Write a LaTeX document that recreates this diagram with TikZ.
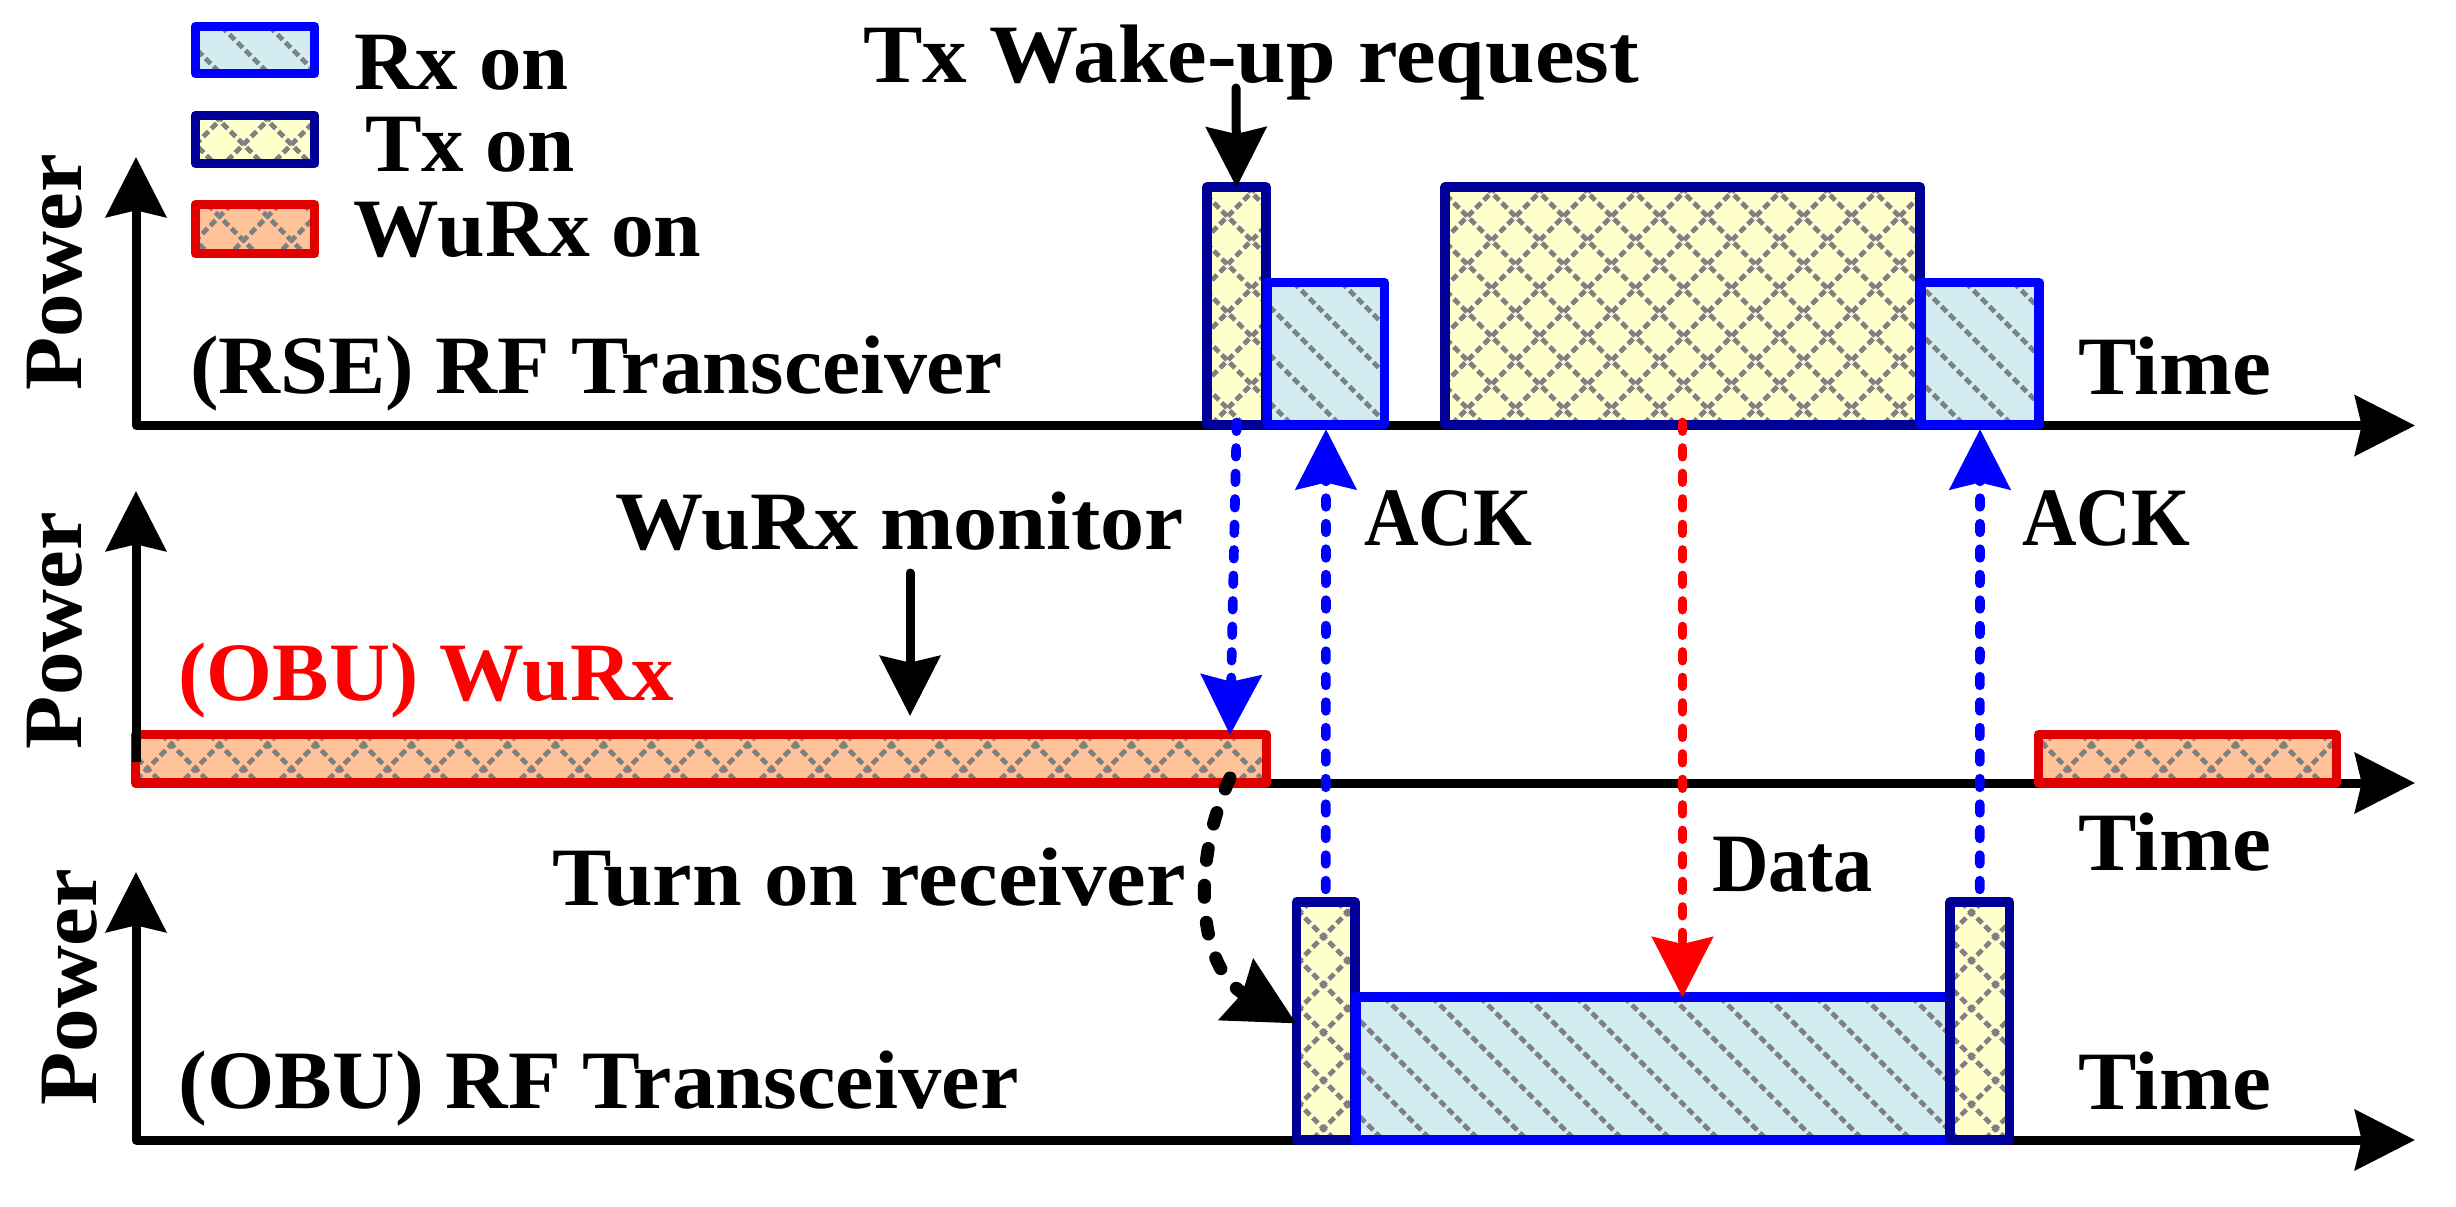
\documentclass[tikz,border=0pt]{standalone}
\usepackage{fontspec}
\usepackage{graphicx}
\setmainfont{Liberation Serif}
\usetikzlibrary{arrows.meta}
\definecolor{rxblue}{RGB}{0,0,255}
\definecolor{txblue}{RGB}{0,0,153}
\definecolor{wured}{RGB}{224,0,0}
\definecolor{rxfill}{RGB}{210,236,242}
\definecolor{txfill}{RGB}{255,255,204}
\definecolor{wufill}{RGB}{255,194,153}
\definecolor{hatchgray}{RGB}{128,128,128}
\newsavebox\fitbox
\newcommand\fitw[2]{\sbox\fitbox{#2}\pgfmathsetmacro\fitr{(#1)*0.3/\wd\fitbox}\scalebox{\fitr}[1]{\usebox\fitbox}}
\tikzset{
  lbl/.style={anchor=base west,inner sep=0pt,outer sep=0pt,font=\fontsize{24.9}{30}\selectfont\bfseries},
  sig/.style={draw=#1,line width=2.8pt,line join=round,inner sep=0pt,anchor=center},
  axisline/.style={line width=2.7pt,line join=round,black},
  bighead/.style={-{Stealth[length=18pt,width=18pt,inset=2pt]}},
  linkline/.style={line width=2.9pt,line cap=round,dash pattern=on 2.6pt off 5.05pt},
  solidlink/.style={line width=2.7pt,line cap=round,black},
  hatchline/.style={hatchgray,line width=1.4pt,dash pattern=on 2.2pt off 1.19pt}
}
% name, x1, y1, x2, y2, fill, stroke, 1=cross hatch / 0=stripes
\newcommand\sigbox[8]{%
  \fill[#6] (#2,#3) rectangle (#4,#5);
  \begin{scope}
    \clip (#2,#3) rectangle (#4,#5);
    \pgfmathtruncatemacro\ka{floor((#2-#5-3)/48)}
    \pgfmathtruncatemacro\kb{ceil((#4-#3-3)/48)}
    \foreach \k in {\ka,...,\kb}{
      \pgfmathsetmacro\dd{3+48*\k}
      \draw[hatchline] ({\dd+#3},#3) -- ({\dd+#5},#5);
    }
    \ifnum#8=1
      \pgfmathtruncatemacro\ka{floor((#2+#3-4)/48)}
      \pgfmathtruncatemacro\kb{ceil((#4+#5-4)/48)}
      \foreach \k in {\ka,...,\kb}{
        \pgfmathsetmacro\dd{4+48*\k}
        \draw[hatchline] ({\dd-#3},#3) -- ({\dd-#5},#5);
      }
    \fi
  \end{scope}
  \pgfmathsetmacro\bw{(#4-#2)*0.3}
  \pgfmathsetmacro\bh{(#5-#3)*0.3}
  \node[sig=#7,minimum width=\bw pt,minimum height=\bh pt] (#1) at ({(#2+#4)/2},{(#3+#5)/2}) {};
}
\begin{document}
\begin{tikzpicture}[x=0.3pt,y=-0.3pt]
\useasboundingbox (0,0) rectangle (2456,1206);
\fill[white] (0,0) rectangle (2456,1206);

% free ends
\coordinate (ax1top) at (136,157);
\coordinate (ax1org) at (136,425.5);
\coordinate (ax1end) at (2415,425.5);
\coordinate (ax2top) at (136,491);
\coordinate (ax2low) at (136,762);
\coordinate (ax2org) at (136,783);
\coordinate (ax2end) at (2415,783);
\coordinate (ax3top) at (136,872);
\coordinate (ax3org) at (136,1140);
\coordinate (ax3end) at (2415,1140);
\coordinate (wakefrom) at (1236,88);
\coordinate (monfrom) at (910,573);
\coordinate (monto) at (910,716);
\coordinate (wuhit) at (1230,735);
\coordinate (wuexit) at (1230,778);

% axes
\draw[axisline,{Stealth[length=18pt,width=18pt,inset=2pt]}-{Stealth[length=18pt,width=18pt,inset=2pt]}] (ax1top) -- (ax1org) -- (ax1end);
\draw[axisline,bighead] (ax2org) -- (ax2end);
\draw[axisline,{Stealth[length=18pt,width=18pt,inset=2pt]}-{Stealth[length=18pt,width=18pt,inset=2pt]}] (ax3top) -- (ax3org) -- (ax3end);

% legend
\sigbox{legrx}{195.5}{26.5}{314.5}{73.5}{rxfill}{rxblue}{0}
\sigbox{legtx}{195.5}{115.5}{314.5}{163.5}{txfill}{txblue}{1}
\sigbox{legwu}{195.5}{204.5}{314.5}{253.5}{wufill}{wured}{1}

% RSE transceiver
\sigbox{rseA}{1207}{187}{1266}{424.5}{txfill}{txblue}{1}
\sigbox{rseB}{1267.5}{282.5}{1384.5}{424.5}{rxfill}{rxblue}{0}
\sigbox{rseC}{1445}{187}{1920}{424.5}{txfill}{txblue}{1}
\sigbox{rseD}{1921}{282.5}{2039}{424.5}{rxfill}{rxblue}{0}

% OBU WuRx
\sigbox{wuA}{135.5}{734.5}{1266.5}{783}{wufill}{wured}{1}
\sigbox{wuB}{2038.5}{734.5}{2336.5}{783}{wufill}{wured}{1}
\draw[axisline,{Stealth[length=18pt,width=18pt,inset=2pt]}-] (ax2top) -- (ax2low);

% OBU transceiver
\sigbox{obuA}{1296.5}{902}{1355}{1140}{txfill}{txblue}{1}
\sigbox{obuB}{1356}{997}{1950}{1140}{rxfill}{rxblue}{0}
\sigbox{obuC}{1950}{902}{2009.5}{1140}{txfill}{txblue}{1}

% connectors
\draw[solidlink,bighead,shorten >=-1.5pt] (wakefrom) -- (rseA.north);
\draw[solidlink,bighead] (monfrom) -- (monto);
\draw[linkline,rxblue,bighead,shorten <=-2pt] (rseA.south) -- (wuhit);
\draw[linkline,rxblue,bighead,shorten <=2.4pt] (obuA.north) -- (rseB.south);
\draw[linkline,rxblue,bighead,shorten <=2.4pt] (obuC.north) -- (rseD.south);
\draw[linkline,red,bighead,shorten <=-2pt,shorten >=-1.5pt] (rseC.south) -- (rseC.south |- obuB.north);
\draw[line width=3.9pt,line cap=round,dash pattern=on 3.6pt off 7.5pt,black,
      -{Stealth[length=20.5pt,width=20.5pt,inset=2pt]},shorten >=-1.5pt]
  (wuexit) .. controls (1190,865) and (1198,968) .. (obuA.west);

% texts
\node[lbl] (trx) at (354.6,90) {\fitw{214}{Rx on}};
\node[lbl] (ttx) at (365,172) {\fitw{210}{Tx on}};
\node[lbl] (twu) at (353.6,257) {\fitw{348}{WuRx on}};
\node[lbl] (twake) at (863,83) {\fitw{776}{Tx Wake-up request}};
\node[lbl] (trse) at (190,393) {\fitw{813}{(RSE) RF Transceiver}};
\node[lbl] (ttime1) at (2078,394) {\fitw{193}{Time}};
\node[lbl] (tack1) at (1364,545) {\fitw{168}{ACK}};
\node[lbl] (tack2) at (2022,545) {\fitw{168}{ACK}};
\node[lbl] (tmon) at (615,549) {\fitw{569}{WuRx monitor}};
\node[lbl,text=red] (tobuw) at (178.6,700.7) {\fitw{495}{(OBU) WuRx}};
\node[lbl] (ttime2) at (2078,870) {\fitw{193}{Time}};
\node[lbl] (tdata) at (1712,891) {\fitw{161}{Data}};
\node[lbl] (tturn) at (552,905) {\fitw{634}{Turn on receiver}};
\node[lbl] (tobu) at (178.6,1108) {\fitw{840}{(OBU) RF Transceiver}};
\node[lbl] (ttime3) at (2078,1109) {\fitw{193}{Time}};
\node[lbl,rotate=90] (tp1) at (81,391) {\fitw{237}{Power}};
\node[lbl,rotate=90] (tp2) at (81.7,749) {\fitw{237}{Power}};
\node[lbl,rotate=90] (tp3) at (96,1105.7) {\fitw{237}{Power}};
\end{tikzpicture}
\end{document}
